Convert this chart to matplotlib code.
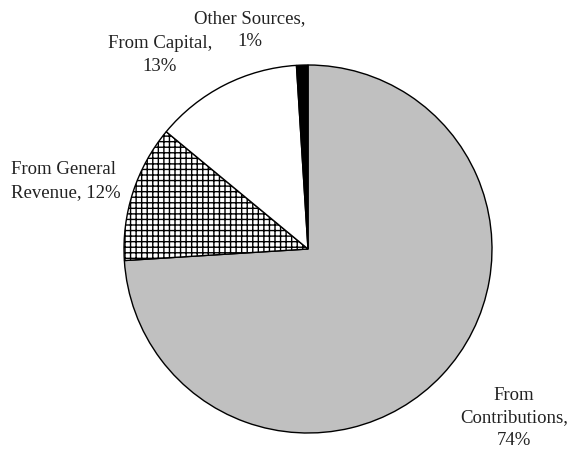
import matplotlib.pyplot as plt

labels = ['From Contributions', 'From General Revenue', 'From Capital', 'Other Sources']
shares = [74, 12, 13, 1]
colors = ['#c0c0c0', 'white', 'white', 'black']
hatches = ['', '+++', '', '']

W, H = 568, 457
fig = plt.figure(figsize=(W / 100, H / 100), dpi=100)
ax = fig.add_axes([0, 0, 1, 1])

wedges, _ = ax.pie(shares, colors=colors, startangle=90, counterclock=False,
                   center=(308, H - 249), radius=184,
                   wedgeprops=dict(edgecolor='black', linewidth=1.0))
for w, h in zip(wedges, hatches):
    w.set_hatch(h)
ax.set_xlim(0, W)
ax.set_ylim(0, H)
ax.set_aspect('equal')
ax.axis('off')

font = dict(family='Liberation Serif', fontsize=13.5, color='#222222')
ax.text(250, H - 30, 'Other Sources,\n1%', ha='center', va='center', linespacing=1.45, **font)
ax.text(160, H - 55, 'From Capital,\n13%', ha='center', va='center', linespacing=1.45, **font)
ax.text(11, H - 181, 'From General\nRevenue, 12%', ha='left', va='center', linespacing=1.45, **font)
ax.text(514, H - 418, 'From\nContributions,\n74%', ha='center', va='center', linespacing=1.45, **font)

fig.savefig('out.png', dpi=100)
